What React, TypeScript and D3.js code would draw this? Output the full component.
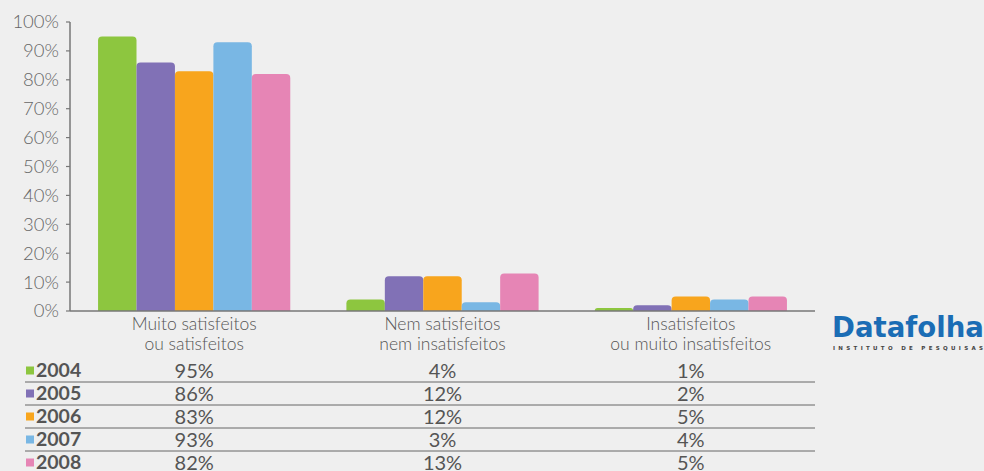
import React from 'react';
import * as d3 from 'd3';

const categories = ['Muito satisfeitos\nou satisfeitos', 'Nem satisfeitos\nnem insatisfeitos', 'Insatisfeitos\nou muito insatisfeitos'];
const years = ['2004', '2005', '2006', '2007', '2008'];
const values2004 = [95, 4, 1];
const values2005 = [86, 12, 2];
const values2006 = [83, 12, 5];
const values2007 = [93, 3, 4];
const values2008 = [82, 13, 5];
const seriesValues = [values2004, values2005, values2006, values2007, values2008];
const colors = ['#8dc63f', '#8171b6', '#f8a51d', '#79b7e4', '#e685b5'];
const yTicks = [0, 10, 20, 30, 40, 50, 60, 70, 80, 90, 100];

const W = 984;
const H = 471;
const font = 'Lato, "Open Sans", sans-serif';

// top-rounded rect path
const barPath = (x: number, y: number, w: number, h: number, r: number) => {
  const rr = Math.min(r, h, w / 2);
  return `M${x},${y + h}V${y + rr}Q${x},${y} ${x + rr},${y}H${x + w - rr}Q${x + w},${y} ${x + w},${y + rr}V${y + h}Z`;
};

const App: React.FC = () => {
  const x0 = d3.scaleBand<number>()
    .domain(d3.range(categories.length))
    .range([70, 815])
    .paddingInner(0.226)
    .paddingOuter(0.113);
  const x1 = d3.scaleBand<number>()
    .domain(d3.range(years.length))
    .range([0, x0.bandwidth()]);
  const y = d3.scaleLinear().domain([0, 100]).range([311, 22]);

  const rowY = d3.scaleBand<number>().domain(d3.range(years.length)).range([359, 474]);

  return (
    <svg width={W} height={H} style={{ position: 'fixed', left: 0, top: 0, background: '#efefef' }}>
      <rect width={W} height={H} fill="#efefef" />
      {/* y axis */}
      <line x1={70} x2={70} y1={y(100)} y2={y(0)} stroke="#777" strokeWidth={1.5} />
      {yTicks.map(t => (
        <g key={t}>
          <line x1={66} x2={70} y1={y(t)} y2={y(t)} stroke="#777" strokeWidth={1.2} />
          <text x={59} y={y(t)} dy="0.35em" textAnchor="end" fontFamily={font} fontWeight={300}
            fontSize={18.5} fill="#666">{t}%</text>
        </g>
      ))}
      {/* bars */}
      {categories.map((c, ci) => (
        <g key={ci} transform={`translate(${x0(ci)},0)`}>
          {years.map((yr, si) => {
            const v = seriesValues[si][ci];
            return (
              <path key={yr} d={barPath(x1(si)!, y(v), x1.bandwidth(), y(0) - y(v), 4)} fill={colors[si]} />
            );
          })}
        </g>
      ))}
      <line x1={70} x2={815} y1={y(0)} y2={y(0)} stroke="#777" strokeWidth={1.5} />
      {/* category labels */}
      {categories.map((c, ci) => (
        <text key={ci} x={x0(ci)! + x0.bandwidth() / 2} y={330} textAnchor="middle" fontFamily={font}
          fontWeight={300} fontSize={17.5} fill="#555">
          {c.split('\n').map((l, li) => (
            <tspan key={li} x={x0(ci)! + x0.bandwidth() / 2} dy={li === 0 ? 0 : 20}>{l}</tspan>
          ))}
        </text>
      ))}
      {/* table */}
      {years.map((yr, si) => {
        const cy = rowY(si)! + rowY.bandwidth() / 2;
        return (
          <g key={yr}>
            <rect x={26} y={cy - 4} width={8} height={8} fill={colors[si]} />
            <text x={36} y={cy} dy="0.35em" fontFamily={font} fontWeight={700} fontSize={19.5} fill="#555">{yr}</text>
            {categories.map((c, ci) => (
              <text key={ci} x={x0(ci)! + x0.bandwidth() / 2} y={cy} dy="0.35em" textAnchor="middle"
                fontFamily={font} fontWeight={400} fontSize={20} fill="#555">{seriesValues[si][ci]}%</text>
            ))}
            {si < years.length - 1 && (
              <line x1={25} x2={815} y1={rowY(si)! + rowY.bandwidth()} y2={rowY(si)! + rowY.bandwidth()}
                stroke="#666" strokeWidth={1} />
            )}
          </g>
        );
      })}
      {/* logo */}
      <text x={908} y={337} textAnchor="middle" fontFamily='"DejaVu Sans", sans-serif' fontWeight={700}
        fontSize={29} fill="#1b6db5" textLength={152} lengthAdjust="spacingAndGlyphs">Datafolha</text>
      <text x={908} y={350} textAnchor="middle" fontFamily='"DejaVu Sans", sans-serif' fontWeight={700}
        fontSize={5.5} fill="#444" textLength={150} lengthAdjust="spacing">INSTITUTO DE PESQUISAS</text>
    </svg>
  );
};

export default App;
